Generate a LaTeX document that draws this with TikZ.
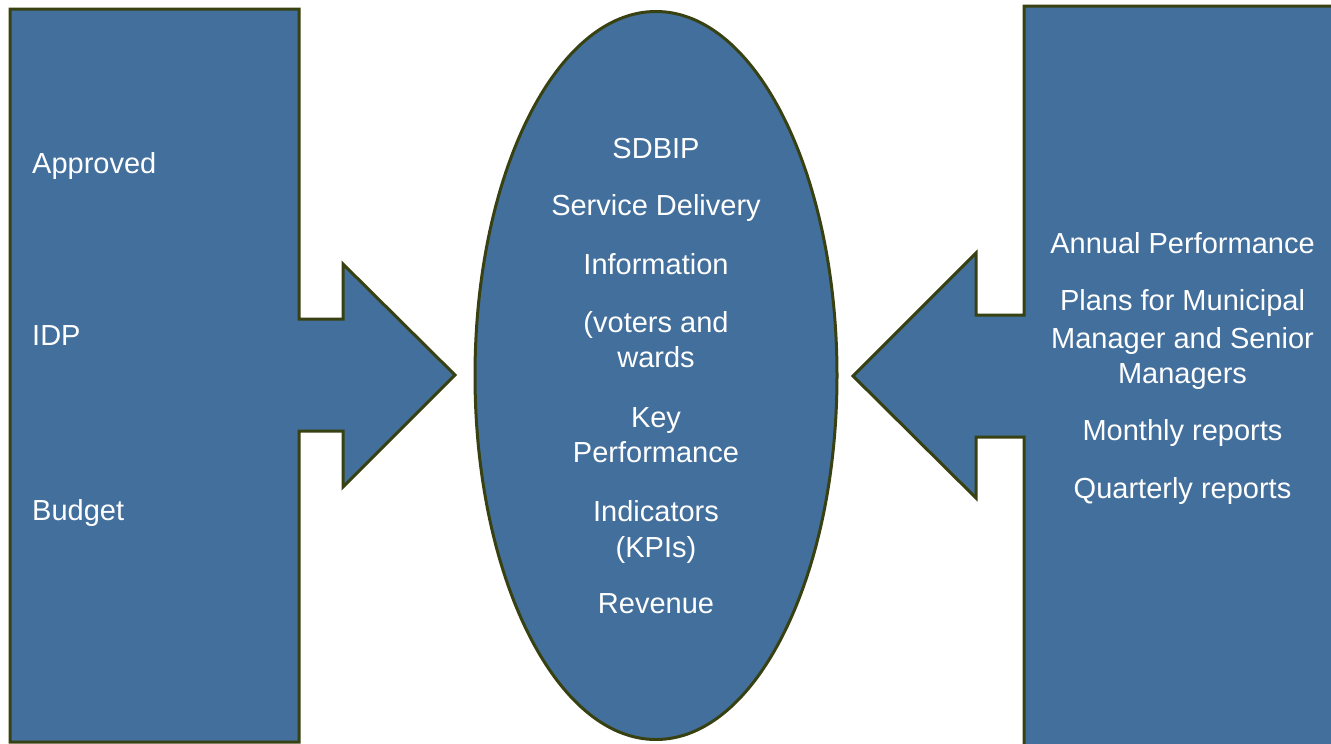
\documentclass[tikz,border=0pt]{standalone}
\usepackage{fontspec}
\setmainfont{Liberation Sans}
\usepackage{tikz}
\usetikzlibrary{positioning}
\definecolor{panelblue}{RGB}{67,111,156}
\definecolor{paneledge}{RGB}{56,65,17}

\tikzset{
    panel/.style={draw=paneledge, line width=3pt, fill=panelblue, line join=miter},
    paneltext/.style={text=white, inner sep=0pt, anchor=base,
        font=\fontsize{29}{35}\selectfont}
}

\begin{document}
\begin{tikzpicture}[x=1pt, y=-1pt]
    \useasboundingbox (0,0) rectangle (1331,744);
    \clip (0,0) rectangle (1331,744);

    % Left block with arrow to the right
    \draw[panel] (10,9) -- (299,9) -- (299,319) -- (343,319) -- (343,264)
        -- (455,375) -- (343,487) -- (343,431) -- (299,431) -- (299,742)
        -- (10,742) -- cycle;
    \node[paneltext, anchor=base west] (approved) at (32,173) {Approved};
    \node[paneltext, anchor=base west] (idp) at (32,345) {IDP};
    \node[paneltext, anchor=base west] (budget) at (32,520) {Budget};

    % Ellipse in the middle
    \draw[panel] (656,375.5) ellipse [x radius=181, y radius=364];
    \foreach \y/\t [count=\i] in {158/SDBIP, 215/Service Delivery,
        274/Information, 332/(voters and, 367/wards, 427/Key,
        462/Performance, 521/Indicators, 557/(KPIs), 613/Revenue}
        \node[paneltext] (sdbip\i) at (656,\y) {\t};

    % Right block with arrow to the left
    \draw[panel] (1345,6) -- (1024,6) -- (1024,315) -- (976,315) -- (976,253)
        -- (853,376) -- (976,498) -- (976,437) -- (1024,437) -- (1024,755)
        -- (1345,755) -- cycle;
    \foreach \y/\t [count=\i] in {253/Annual Performance,
        310/Plans for Municipal, 348/Manager and Senior, 383/Managers,
        440/Monthly reports, 498/Quarterly reports}
        \node[paneltext] (plans\i) at (1182.5,\y) {\t};
\end{tikzpicture}
\end{document}
